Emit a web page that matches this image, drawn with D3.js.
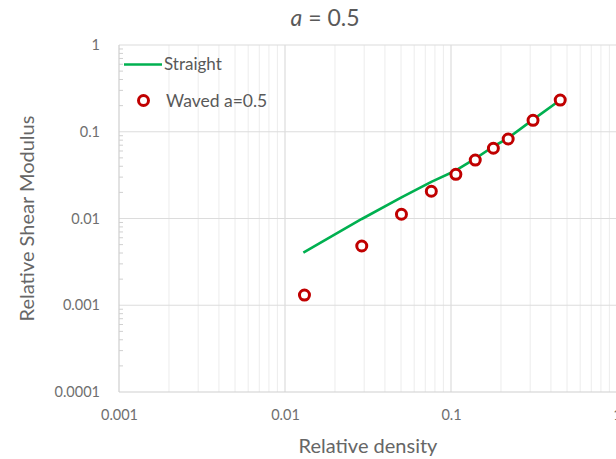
<!DOCTYPE html>
<html>
<head>
<meta charset="utf-8">
<script src="https://cdn.jsdelivr.net/npm/d3@7"></script>
<style>
  html, body { margin: 0; padding: 0; background: #fff; }
  svg { display: block; }
  text { font-family: Lato, "Open Sans", sans-serif; }
</style>
</head>
<body>
<div id="chart"></div>
<script>
// Relative density vs relative shear modulus (log-log)
const densityWaved = [0.0131, 0.0290, 0.0503, 0.0761, 0.107, 0.140, 0.180, 0.221, 0.312, 0.455];
const modulusWaved = [0.00131, 0.00482, 0.0112, 0.0206, 0.0323, 0.0472, 0.0645, 0.0825, 0.1355, 0.232];
const densityStraight = [0.0129, 0.0290, 0.0503, 0.0761, 0.107, 0.140, 0.180, 0.221, 0.312, 0.455];
const modulusStraight = [0.00403, 0.00987, 0.0175, 0.0264, 0.0358, 0.0491, 0.0676, 0.0847, 0.138, 0.232];
const xTickValues = [0.001, 0.01, 0.1, 1];
const xTickLabels = ["0.001", "0.01", "0.1", "1"];
const yTickValues = [0.0001, 0.001, 0.01, 0.1, 1];
const yTickLabels = ["0.0001", "0.001", "0.01", "0.1", "1"];
const seriesNames = ["Straight", "Waved a=0.5"];

const W = 616, H = 459;
const plot = { left: 119, right: 617, top: 45, bottom: 392 };

const svg = d3.select("#chart").append("svg")
  .attr("width", W).attr("height", H);

const x = d3.scaleLog().domain([0.001, 1]).range([plot.left, plot.right]);
const y = d3.scaleLog().domain([0.0001, 1]).range([plot.bottom, plot.top]);

// minor multiples inside each decade
const minor = [];
[0.001, 0.01, 0.1].forEach(d => { for (let k = 2; k <= 9; k++) minor.push(d * k); });
const minorY = [];
[0.0001, 0.001, 0.01, 0.1].forEach(d => { for (let k = 2; k <= 9; k++) minorY.push(d * k); });

// vertical minor gridlines
svg.append("g").selectAll("line").data(minor).join("line")
  .attr("x1", d => x(d)).attr("x2", d => x(d))
  .attr("y1", plot.top).attr("y2", plot.bottom)
  .attr("stroke", "#ececec").attr("stroke-width", 1);

// major gridlines
svg.append("g").selectAll("line").data(xTickValues.slice(1)).join("line")
  .attr("x1", d => x(d)).attr("x2", d => x(d))
  .attr("y1", plot.top).attr("y2", plot.bottom)
  .attr("stroke", "#dcdcdc").attr("stroke-width", 1.2);
svg.append("g").selectAll("line").data(yTickValues.slice(1)).join("line")
  .attr("x1", plot.left).attr("x2", plot.right)
  .attr("y1", d => y(d)).attr("y2", d => y(d))
  .attr("stroke", "#dcdcdc").attr("stroke-width", 1.2);

// y minor tick marks on the axis
svg.append("g").selectAll("line").data(minorY).join("line")
  .attr("x1", plot.left).attr("x2", plot.left + 4)
  .attr("y1", d => y(d)).attr("y2", d => y(d))
  .attr("stroke", "#d0d0d0").attr("stroke-width", 1);

// axis lines
svg.append("line")
  .attr("x1", plot.left).attr("x2", plot.left)
  .attr("y1", plot.top).attr("y2", plot.bottom)
  .attr("stroke", "#cfcfcf").attr("stroke-width", 1.2);
svg.append("line")
  .attr("x1", plot.left).attr("x2", plot.right)
  .attr("y1", plot.bottom).attr("y2", plot.bottom)
  .attr("stroke", "#cfcfcf").attr("stroke-width", 1.2);

// axes tick labels
const xAxis = d3.axisBottom(x).tickValues(xTickValues)
  .tickFormat((d, i) => xTickLabels[i]).tickSize(0).tickPadding(18);
svg.append("g").attr("transform", `translate(0,${plot.bottom})`).call(xAxis)
  .call(g => g.select(".domain").remove())
  .call(g => g.selectAll("text").attr("fill", "#6f6f6f")
    .style("font-size", "14.5px").style("font-family", "Lato, 'Open Sans', sans-serif"));

const yAxis = d3.axisLeft(y).tickValues(yTickValues)
  .tickFormat((d, i) => yTickLabels[i]).tickSize(0).tickPadding(19);
svg.append("g").attr("transform", `translate(${plot.left},0)`).call(yAxis)
  .call(g => g.select(".domain").remove())
  .call(g => g.selectAll("text").attr("fill", "#6f6f6f")
    .style("font-size", "14.5px").style("font-family", "Lato, 'Open Sans', sans-serif"));

// axis titles
svg.append("text")
  .attr("x", (plot.left + plot.right) / 2).attr("y", 453)
  .attr("text-anchor", "middle").attr("fill", "#666")
  .style("font-size", "20px").text("Relative density");
svg.append("text")
  .attr("transform", `translate(34,${(plot.top + plot.bottom) / 2}) rotate(-90)`)
  .attr("text-anchor", "middle").attr("fill", "#666")
  .style("font-size", "20px").text("Relative Shear Modulus");

// chart title
const title = svg.append("text")
  .attr("x", 325).attr("y", 26).attr("text-anchor", "middle")
  .attr("fill", "#595959").style("font-size", "23px");
title.append("tspan").attr("font-style", "italic").text("a");
title.append("tspan").text(" = 0.5");

// straight series line
const straight = densityStraight.map((d, i) => [d, modulusStraight[i]]);
svg.append("path").datum(straight)
  .attr("fill", "none").attr("stroke", "#00b050").attr("stroke-width", 2.6)
  .attr("stroke-linejoin", "round")
  .attr("d", d3.line().x(d => x(d[0])).y(d => y(d[1])));

// waved series markers
const waved = densityWaved.map((d, i) => [d, modulusWaved[i]]);
svg.append("g").selectAll("circle").data(waved).join("circle")
  .attr("cx", d => x(d[0])).attr("cy", d => y(d[1])).attr("r", 5)
  .attr("fill", "#fff").attr("stroke", "#c00000").attr("stroke-width", 3);

// legend
const lg = svg.append("g");
lg.append("line").attr("x1", 124).attr("x2", 162).attr("y1", 64.5).attr("y2", 64.5)
  .attr("stroke", "#00b050").attr("stroke-width", 2.6);
lg.append("text").attr("x", 164).attr("y", 64.5).attr("dy", "0.35em")
  .attr("fill", "#595959").style("font-size", "17px").text(seriesNames[0]);
lg.append("circle").attr("cx", 143.5).attr("cy", 100.5).attr("r", 5)
  .attr("fill", "#fff").attr("stroke", "#c00000").attr("stroke-width", 3);
lg.append("text").attr("x", 166).attr("y", 100.5).attr("dy", "0.35em")
  .attr("fill", "#595959").style("font-size", "17.5px").text(seriesNames[1]);
</script>
</body>
</html>
